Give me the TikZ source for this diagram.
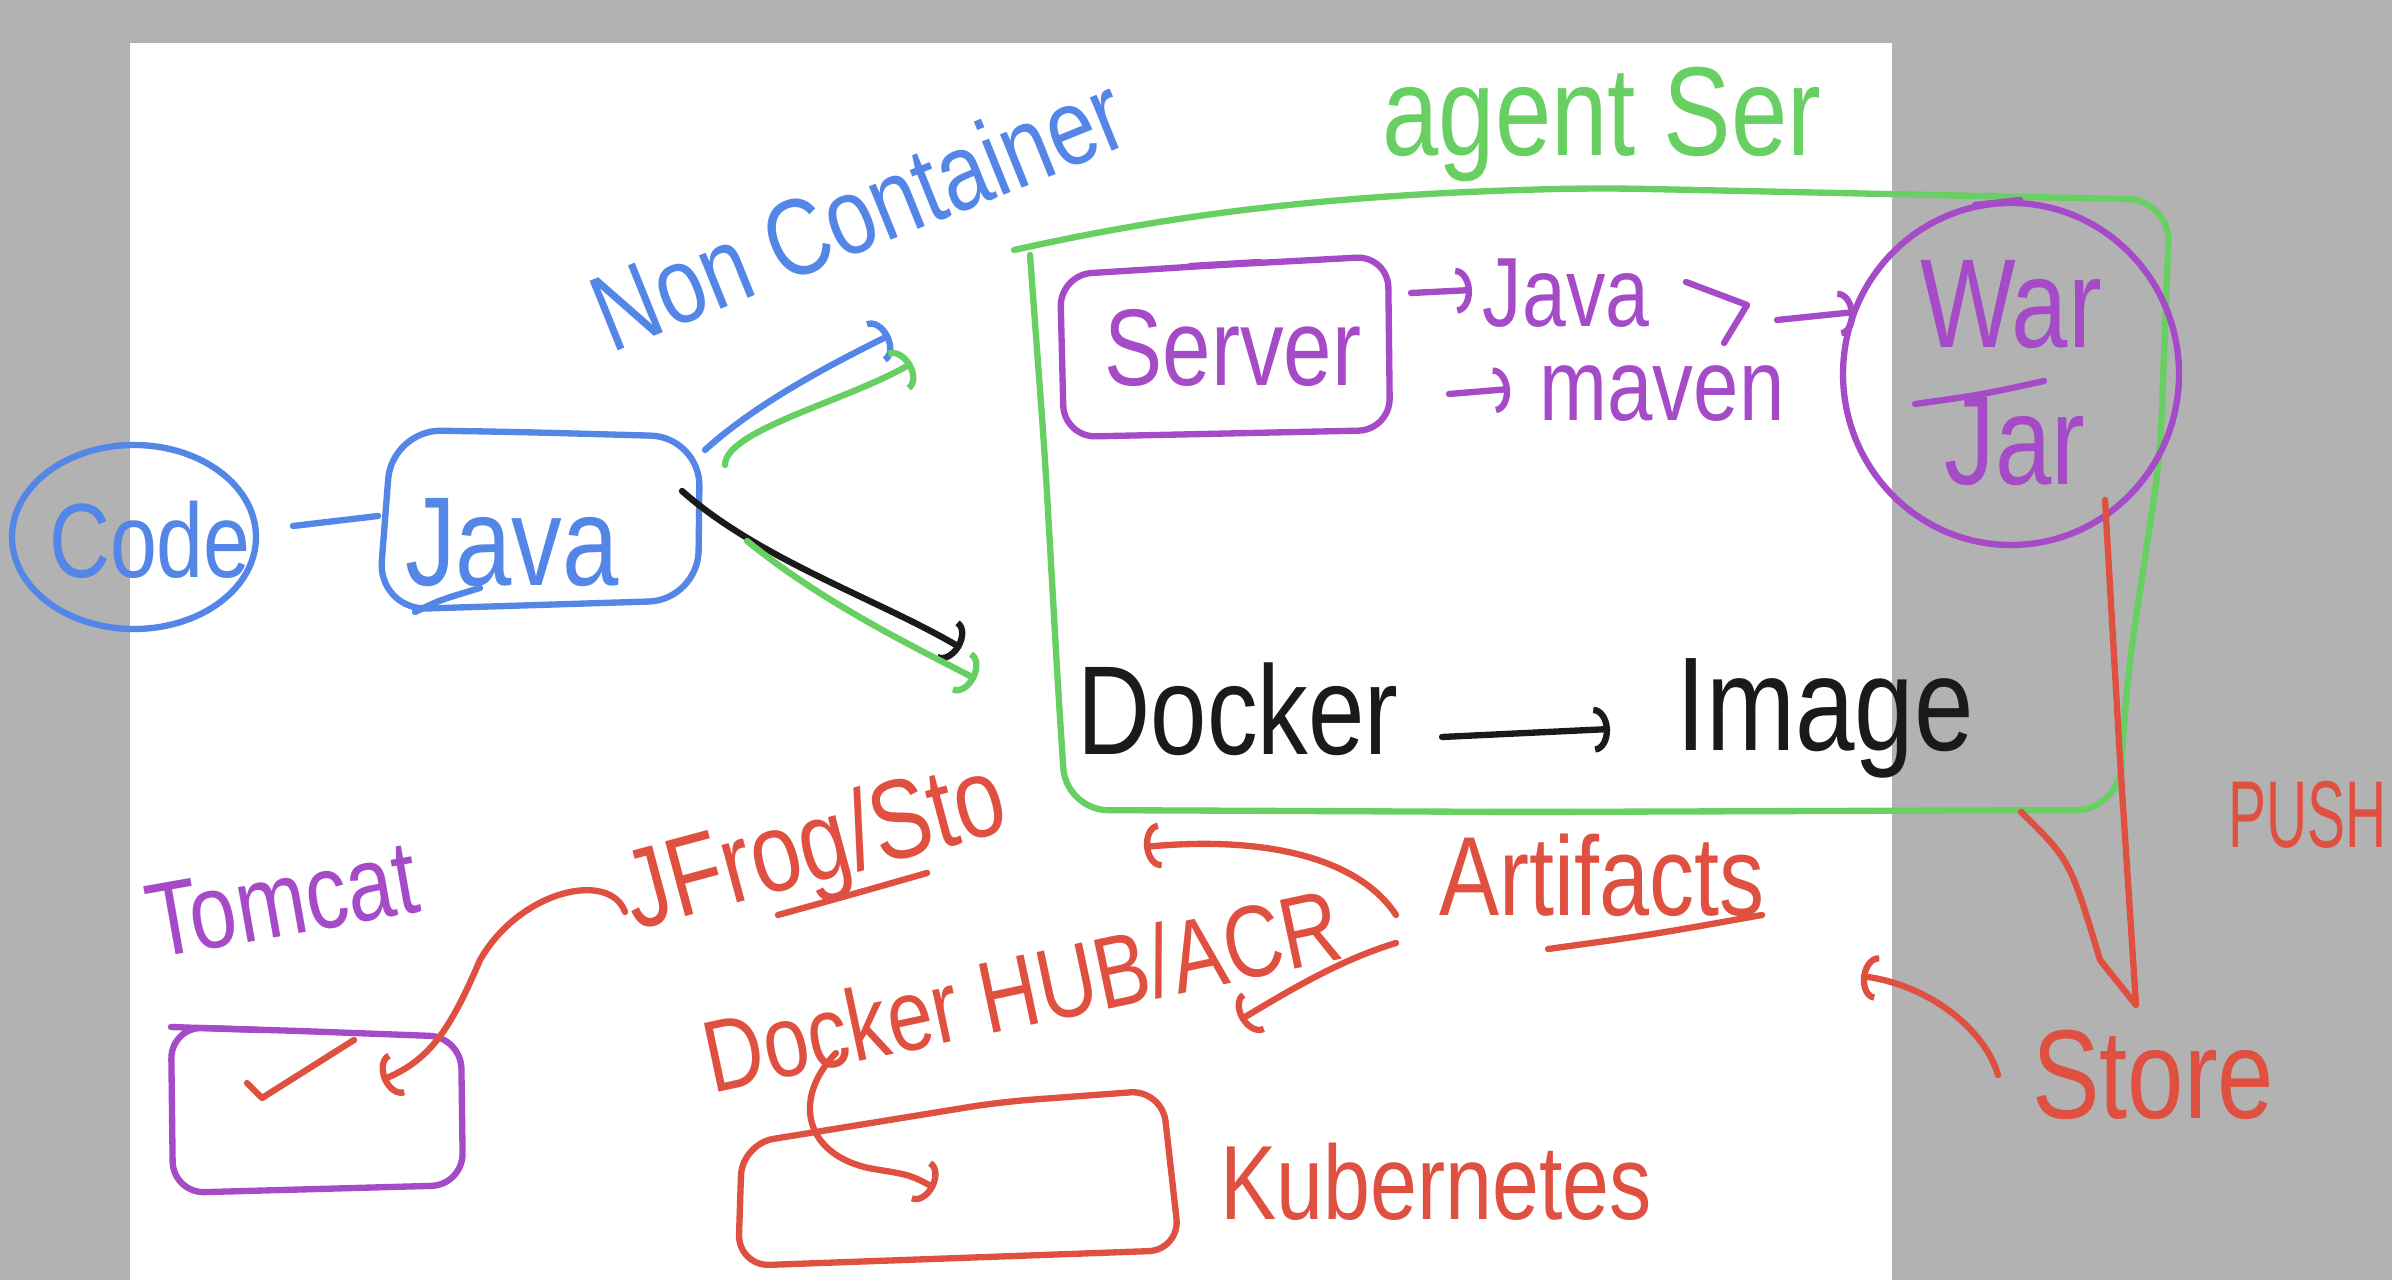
\documentclass[tikz,border=0pt]{standalone}
\usepackage{fontspec}
\setmainfont{Liberation Sans}
\usetikzlibrary{arrows.meta}
\definecolor{hblue}{RGB}{84,134,232}
\definecolor{hgreen}{RGB}{104,208,98}
\definecolor{hpurple}{RGB}{165,75,200}
\definecolor{hred}{RGB}{224,80,64}
\definecolor{hblack}{RGB}{26,26,26}
\definecolor{graybg}{RGB}{178,178,178}
\newcommand\hnd[1]{\scalebox{0.8}[1]{#1}}
\newcommand\fsz[1]{\fontsize{#1}{#1}\selectfont}
\begin{document}
\begin{tikzpicture}[x=0.01cm,y=-0.01cm,line cap=round,line join=round,
  pen/.style={line width=1.8pt},
  txt/.style={inner sep=0pt},
  hook/.style={-{Arc Barb[width=13pt,length=4.5pt]}}]
\useasboundingbox (0,0) rectangle (2392,1280);
\fill[graybg] (0,0) rectangle (2392,1280);
\fill[white] (130,43) rectangle (1892,1280);

% ---------- blue: Code, Java, Non Container ----------
\draw[pen,hblue] (134,537) ellipse [x radius=122, y radius=92];
\node[txt,text=hblue,font=\fsz{30}] (code) at (150,540) {\hnd{Code}};
\draw[pen,hblue,rounded corners=14pt] (520,432) -- (700,437) -- (698,600) -- (378,610) -- (392,430) -- cycle;
\draw[pen,hblue] (415,612) .. controls (440,600) .. (480,588);
\node[txt,text=hblue,font=\fsz{36}] (java) at (512,543) {\hnd{Java}};
\coordinate (codeR) at (293,526);
\coordinate (javaL) at (378,516);
\draw[pen,hblue] (codeR) -- (javaL);
\node[txt,text=hblue,font=\fsz{31},rotate=22] (noncont) at (858,212) {\hnd{Non Container}};
\coordinate (javaTR) at (705,450);
\coordinate (blueEnd) at (890,335);
\draw[pen,hblue,hook] (javaTR) .. controls (760,400) and (840,360) .. (blueEnd);

% green arrows from Java
\coordinate (javaTR2) at (725,465);
\coordinate (greenEnd) at (912,363);
\draw[pen,hgreen,hook] (javaTR2) .. controls (725,430) and (850,400) .. (greenEnd);
\coordinate (javaR) at (682,491);
\coordinate (blackEnd) at (961,648);
\draw[pen,hblack,hook] (javaR) .. controls (760,560) and (880,600) .. (blackEnd);
\coordinate (javaR2) at (747,541);
\coordinate (green2End) at (976,679);
\draw[pen,hgreen,hook] (javaR2) .. controls (820,600) and (900,640) .. (green2End);

% ---------- green agent server box ----------
\draw[pen,hgreen,rounded corners=12pt] (1014,250) .. controls (1150,220) and (1300,195) .. (1600,188) -- (2170,200) -- (2160,458) -- (2128,671) -- (2118,810) -- (1526,812) -- (1066,810) -- (1058,687) -- (1045,458) -- (1030,255);
\node[txt,text=hgreen,font=\fsz{36}] (agent) at (1602,124) {\hnd{agent Ser}};

% server box
\draw[pen,hpurple,rounded corners=9pt] (1220,265) -- (1388,256) -- (1390,430) -- (1064,437) -- (1060,275) -- cycle;
\draw[pen,hpurple] (1190,266) -- (1260,262);
\node[txt,text=hpurple,font=\fsz{31}] (server) at (1233,348) {\hnd{Server}};
\coordinate (srvR1) at (1411,293);
\coordinate (srvA1) at (1472,290);
\draw[pen,hpurple,hook] (srvR1) -- (srvA1);
\node[txt,text=hpurple,font=\fsz{28}] (java2) at (1566,293) {\hnd{Java}};
\coordinate (srvR2) at (1449,394);
\coordinate (srvA2) at (1510,389);
\draw[pen,hpurple,hook] (srvR2) -- (srvA2);
\node[txt,text=hpurple,font=\fsz{29}] (maven) at (1662,394) {\hnd{maven}};
\draw[pen,hpurple] (1686,282) -- (1747,305) -- (1724,343);
\coordinate (chevR) at (1777,320);
\coordinate (warL) at (1855,312);
\draw[pen,hpurple,hook] (chevR) -- (warL);

% War / Jar circle
\draw[pen,hpurple] (2011,374) ellipse [x radius=168, y radius=171];
\draw[pen,hpurple] (2020,200) -- (1975,205);
\node[txt,text=hpurple,font=\fsz{36}] (war) at (2011,305) {\hnd{War}};
\draw[pen,hpurple] (1915,404) .. controls (1980,395) .. (2044,381);
\node[txt,text=hpurple,font=\fsz{36}] (jar) at (2015,442) {\hnd{Jar}};

% Docker -> Image
\node[txt,text=hblack,font=\fsz{36}] (docker) at (1238,709) {\hnd{Docker}};
\coordinate (dockR) at (1442,737);
\coordinate (imgL) at (1610,729);
\draw[pen,hblack,hook] (dockR) -- (imgL);
\node[txt,text=hblack,font=\fsz{38}] (image) at (1825,718) {\hnd{Image}};

% ---------- red: push / store ----------
\coordinate (warB) at (2105,500);
\coordinate (vtip) at (2136,1005);
\coordinate (boxB) at (2021,812);
\draw[pen,hred] (warB) -- (2120,760) -- (vtip) -- (2100,960) .. controls (2070,860) .. (boxB);
\node[txt,text=hred,font=\fsz{27},anchor=west] (push) at (2228,815) {\scalebox{0.6}[1]{PUSH}};
\node[txt,text=hred,font=\fsz{36}] (store) at (2153,1075) {\hnd{Store}};
\coordinate (storeL) at (1998,1075);
\coordinate (artR) at (1861,976);
\draw[pen,hred,hook] (storeL) .. controls (1985,1030) and (1930,985) .. (artR);

% Artifacts
\node[txt,text=hred,font=\fsz{32}] (artif) at (1602,875) {\hnd{Artifacts}};
\draw[pen,hred] (1548,949) .. controls (1650,935) .. (1762,915);
\coordinate (artL1) at (1396,915);
\coordinate (agentB) at (1144,847);
\draw[pen,hred,hook] (artL1) .. controls (1360,860) and (1270,835) .. (agentB);
\coordinate (artL2) at (1396,943);
\coordinate (hubR) at (1240,1020);
\draw[pen,hred,hook] (artL2) .. controls (1340,960) and (1290,990) .. (hubR);

% JFrog / Tomcat
\node[txt,text=hred,font=\fsz{32},rotate=15] (jfrog) at (816,852) {\hnd{JFrog/Sto}};
\draw[pen,hred] (778,915) .. controls (850,895) .. (927,873);
\node[txt,text=hpurple,font=\fsz{30},rotate=10] (tomcat) at (282,900) {\hnd{Tomcat}};
\draw[pen,hpurple,rounded corners=9pt] (300,1031) -- (461,1037) -- (463,1185) -- (173,1193) -- (171,1027) -- cycle;
\draw[pen,hpurple] (171,1027) -- (260,1030);
\draw[pen,hred] (247,1083) -- (262,1098) -- (354,1040);
\coordinate (jfrogL) at (625,912);
\coordinate (tomIn) at (382,1080);
\draw[pen,hred,hook] (jfrogL) .. controls (610,870) and (520,890) .. (480,960) .. controls (450,1030) and (430,1060) .. (tomIn);

% Docker HUB / Kubernetes
\node[txt,text=hred,font=\fsz{29},rotate=12] (hub) at (1022,990) {\hnd{Docker HUB/ACR}};
\draw[pen,hred,rounded corners=9pt] (1000,1102) -- (1162,1090) -- (1180,1250) -- (738,1266) -- (742,1144) -- cycle;
\coordinate (hubB) at (836,1053);
\coordinate (kubIn) at (935,1188);
\draw[pen,hred,hook] (hubB) .. controls (790,1100) and (805,1160) .. (880,1170) .. controls (910,1175) .. (kubIn);
\node[txt,text=hred,font=\fsz{30}] (kube) at (1436,1182) {\hnd{Kubernetes}};
\end{tikzpicture}
\end{document}
